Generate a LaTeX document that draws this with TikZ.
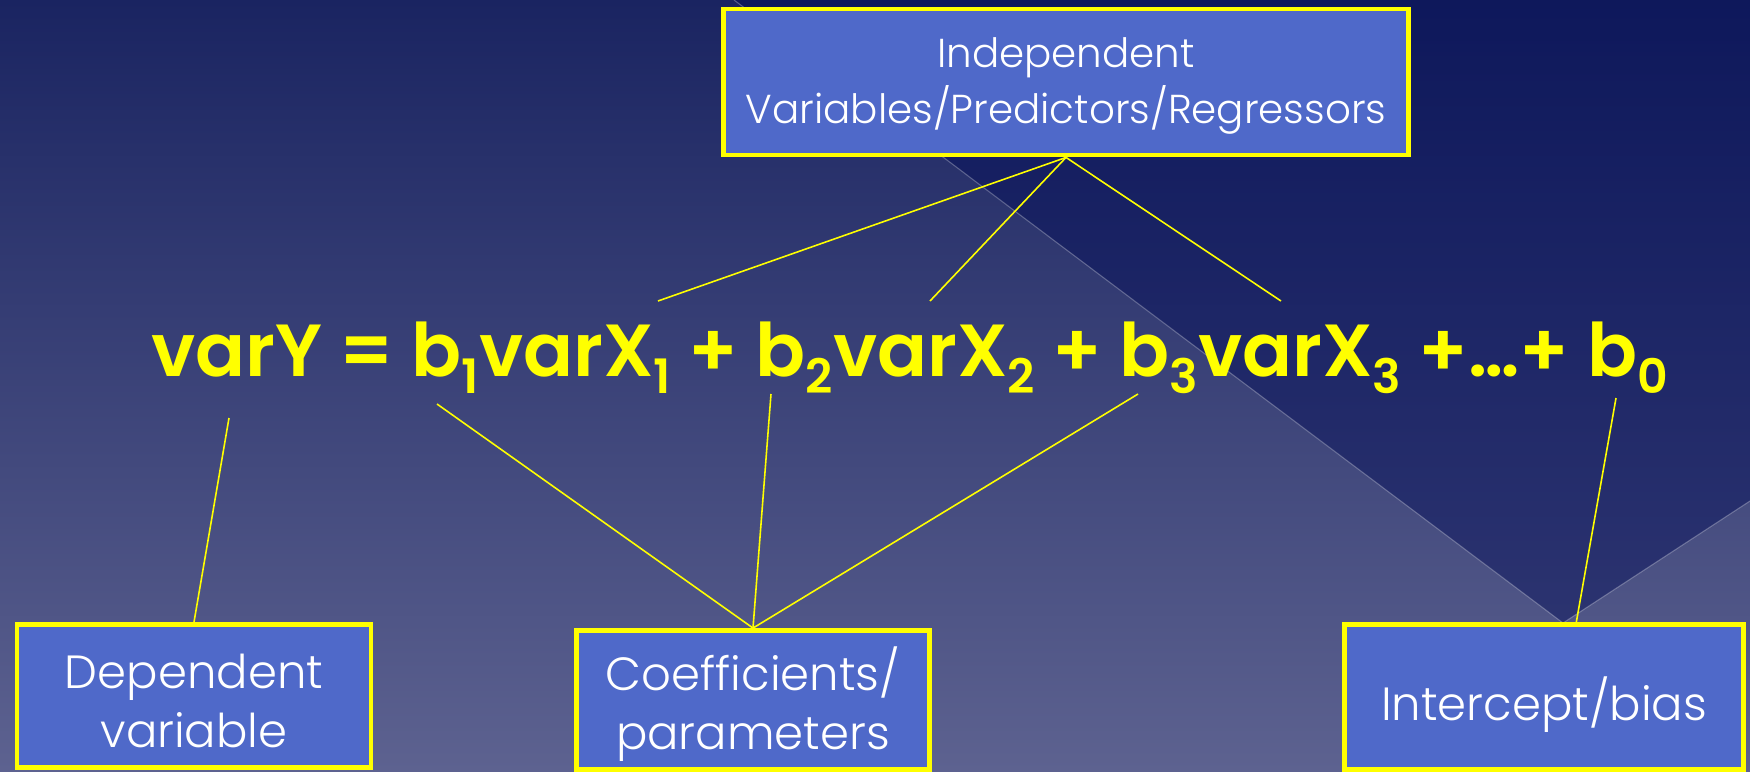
\documentclass[tikz,border=0pt]{standalone}
\usepackage{fontspec}
\setmainfont{Poppins}
\newfontfamily\boxfont{Poppins}[UprightFont=* Light]
\newfontfamily\eqfont{Poppins}[UprightFont=* SemiBold]
\usetikzlibrary{calc}

\definecolor{boxfill}{HTML}{4F69C9}
\definecolor{bgtop}{HTML}{1A2461}
\definecolor{bgbottom}{HTML}{5D6290}
\definecolor{bgshade}{HTML}{000A55}
\definecolor{linkyellow}{HTML}{FFFF00}

% lowered, reduced-size index for the regression equation
\newcommand\eqsub[1]{\raisebox{-10pt}{\fontsize{27}{27}\selectfont #1}}

\tikzset{
  labelbox/.style={draw=linkyellow, line width=2.8pt, fill=boxfill, inner sep=0pt},
  boxtext/.style={text=white, align=center, inner sep=0pt,
    font=\boxfont\fontsize{26.5}{34}\selectfont},
  link/.style={draw=linkyellow, line width=0.9pt},
  eqn/.style={text=linkyellow, inner sep=0pt, font=\eqfont\fontsize{42}{42}\selectfont},
  faint/.style={draw=white, opacity=0.28, line width=0.6pt}
}

\begin{document}
\begin{tikzpicture}[x=0.02cm, y=-0.02cm]
  \useasboundingbox (0,0) rectangle (1750,771);

  % backdrop
  \shade[top color=bgtop, bottom color=bgbottom] (0,0) rectangle (1750,771);
  \fill[bgshade, opacity=0.45] (734,0) -- (1750,0) -- (1750,501) -- (1563,623) -- cycle;
  \draw[faint] (734,0) -- (1563,623) -- (1750,501);

  % label boxes
  \node[labelbox, minimum width=13.7cm, minimum height=2.92cm] (iv) at (1066,82) {};
  \node[labelbox, minimum width=7.08cm, minimum height=2.86cm] (dv) at (194,696) {};
  \node[labelbox, minimum width=7.06cm, minimum height=2.78cm] (cf) at (753,700) {};
  \node[labelbox, minimum width=7.98cm, minimum height=2.9cm] (ib) at (1544,697) {};

  % box captions
  \node[boxtext, font=\boxfont\fontsize{23}{32}\selectfont] (ivt) at ([yshift=-0.08cm]iv.center)
    {Independent\\Variables/Predictors/Regressors};
  \node[boxtext] (dvt) at ([yshift=-0.1cm]dv.center) {Dependent\\variable};
  \node[boxtext] (cft) at ([yshift=-0.08cm]cf.center) {Coefficients/\\parameters};
  \node[boxtext] (ibt) at ([yshift=-0.15cm]ib.center) {Intercept/bias};

  % the equation
  \node[eqn, anchor=base west] (eq) at (151,376)
    {varY = b\eqsub{1}varX\eqsub{1} + b\eqsub{2}varX\eqsub{2} + b\eqsub{3}varX\eqsub{3} +…+ b\eqsub{0}};

  % free ends of the connectors next to the equation terms
  \coordinate (x1) at (658,301);
  \coordinate (x2) at (930,301);
  \coordinate (x3) at (1281,301);
  \coordinate (y0) at (229,418);
  \coordinate (b1) at (437,404);
  \coordinate (b2) at (771,394);
  \coordinate (b3) at (1138,394);
  \coordinate (b0) at (1616,398);
  \coordinate (ibtop) at ($(ib.north west)!0.58!(ib.north east)$);

  % connectors
  \draw[link] (iv.south) -- (x1);
  \draw[link] (iv.south) -- (x2);
  \draw[link] (iv.south) -- (x3);
  \draw[link] (dv.north) -- (y0);
  \draw[link] (cf.north) -- (b1);
  \draw[link] (cf.north) -- (b2);
  \draw[link] (cf.north) -- (b3);
  \draw[link] (ibtop) -- (b0);
\end{tikzpicture}
\end{document}
